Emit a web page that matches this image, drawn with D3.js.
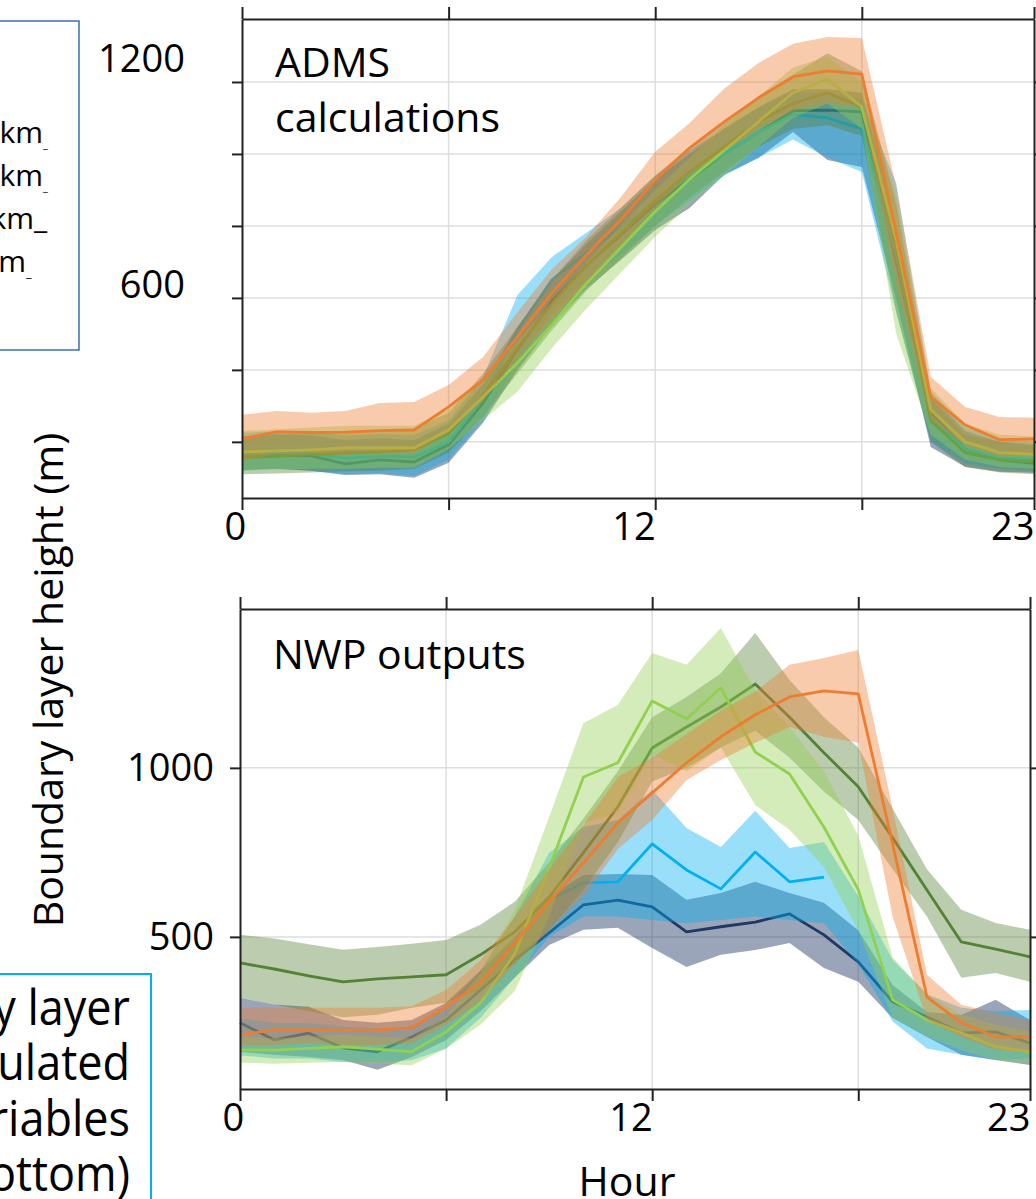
<!DOCTYPE html>
<html>
<head>
<meta charset="utf-8">
<script src="https://cdn.jsdelivr.net/npm/d3@7"></script>
<style>
  body { margin: 0; background: #fff; }
  svg { display: block; font-family: "Open Sans", sans-serif; }
  .grid line { stroke: #dedede; stroke-width: 1.5; }
  .axis path, .axis line { stroke: #222; stroke-width: 2; }
  .axis text { font-family: "Open Sans", sans-serif; fill: #000; }
</style>
</head>
<body>
<div id="chart"></div>
<script>
// hours of the day
var hours = [0,1,2,3,4,5,6,7,8,9,10,11,12,13,14,15,16,17,18,19,20,21,22,23];

// ADMS calculations (top panel): mean, low and high of each run
var admsNavy     = [158,164,161,139,150,144,192,308,456,590,690,775,860,930,1000,1060,1120,1122,1117,700,280,180,150,140];
var admsNavyLo   = [122,125,120,108,110,100,142,253,400,525,625,705,789,850,942,989,1061,983,964,594,186,131,117,114];
var admsNavyHi   = [215,222,218,205,210,205,250,360,520,650,750,840,930,1000,1070,1130,1180,1180,1170,800,330,230,200,190];
var admsCyan     = [165,170,168,155,160,158,200,320,510,650,725,795,870,940,1000,1060,1110,1100,1070,720,270,180,155,150];
var admsCyanLo   = [120,125,120,110,112,105,150,260,420,560,650,720,800,870,940,990,1040,990,950,560,200,140,125,120];
var admsCyanHi   = [225,230,228,218,222,220,260,380,608,714,781,850,940,1010,1070,1130,1170,1170,1150,919,340,240,210,200];
var admsDkGreen   = [156,160,165,169,172,178,224,330,460,585,690,780,870,950,1020,1090,1140,1170,1130,740,260,170,150,145];
var admsDkGreenLo = [110,112,115,118,120,125,170,270,390,510,620,710,800,880,950,1020,1070,1080,1050,560,200,130,115,110];
var admsDkGreenHi = [215,220,225,230,232,238,280,390,520,650,760,850,940,1020,1090,1160,1220,1280,1230,860,320,220,200,195];
var admsLtGreen   = [172,175,178,183,183,183,233,325,420,525,640,740,840,930,1010,1090,1170,1208,1131,760,290,200,170,165];
var admsLtGreenLo = [120,122,125,125,128,128,180,260,340,461,570,670,770,860,940,1020,1100,1140,1070,500,220,150,130,125];
var admsLtGreenHi = [230,235,240,245,245,245,290,380,480,590,700,800,900,990,1080,1160,1240,1270,1200,880,350,250,220,215];
var admsOrange   = [208,228,226,227,231,233,297,372,492,614,719,817,928,1017,1089,1156,1214,1231,1222,781,325,247,206,208];
var admsOrangeLo = [150,165,165,165,170,170,225,315,430,545,645,745,850,940,1010,1070,1120,1140,1130,640,260,190,160,160];
var admsOrangeHi = [275,286,281,286,308,311,358,436,560,680,770,880,1006,1086,1181,1253,1306,1325,1322,908,381,297,269,267];

// NWP outputs (bottom panel); null where the line is not visible
var nwpNavy     = [246,195,215,172,160,204,254,343,432,512,595,609,589,515,530,544,568,506,426,308,263,216,219,186];
var nwpNavyLo   = [160,151,145,136,107,145,195,280,380,476,521,527,467,411,447,461,482,408,367,260,204,151,136,121];
var nwpNavyHi   = [320,300,293,254,246,254,305,400,500,620,683,686,683,610,630,663,630,601,520,358,278,269,314,254];
var nwpCyan     = [null,null,null,null,null,null,null,null,null,610,660,663,775,698,642,751,663,677,null,null,null,null,null,null];
var nwpCyanLo   = [150,140,140,130,130,135,170,260,380,500,560,560,550,540,550,560,550,540,420,250,170,151,136,140];
var nwpCyanHi   = [260,245,245,235,230,235,285,400,560,749,825,846,935,822,766,873,763,781,620,432,330,290,280,284];
var nwpDkGreen   = [423,405,385,367,376,382,388,447,515,618,749,885,1059,1121,1180,1248,1150,1045,944,793,639,485,464,441];
var nwpDkGreenLo = [320,300,280,262,270,290,305,343,420,520,640,780,960,1000,1060,1110,1030,930,846,700,560,379,393,367];
var nwpDkGreenHi = [506,495,478,462,470,480,491,536,604,720,850,990,1150,1210,1280,1399,1260,1150,1060,880,700,580,541,521];
var nwpLtGreen   = [166,165,170,175,168,160,219,305,450,704,973,1015,1198,1145,1237,1047,982,825,640,314,254,216,175,160];
var nwpLtGreenLo = [128,125,128,130,125,120,170,240,340,560,837,870,1040,990,1060,890,817,707,520,260,205,165,135,125];
var nwpLtGreenHi = [205,200,205,210,205,200,265,393,580,855,1133,1186,1340,1305,1414,1230,1120,990,800,440,330,270,240,220];
var nwpOrange   = [210,225,225,224,225,231,293,364,482,604,719,837,926,1015,1092,1157,1210,1228,1219,775,322,246,204,204];
var nwpOrangeLo = [180,180,185,180,180,185,240,310,420,520,620,760,846,964,1023,1074,1121,1092,1074,560,254,204,166,157];
var nwpOrangeHi = [290,290,290,290,290,295,343,430,560,700,830,973,1030,1100,1170,1225,1305,1325,1349,880,388,299,275,254];

// tick values
var hourTicks = [0, 6, 12, 18, 23];
var hourLabels = [0, 12, 23];
var admsTicks = [200, 400, 600, 800, 1000, 1200];
var admsLabels = [600, 1200];
var nwpTicks = [500, 1000];

// legend fragments (cut off by the slide edge)
var runNames = ["UKV 1.5km", "UKV 2.2km", "MOGREPS 2.2km", "Global 10km"];
var noteLines = ["Boundary layer", "heights calculated", "from NWP variables", "(top) and NWP (bottom)"];

var colors = {
    navy: "#1f3864",
    cyan: "#00b0f0",
    dkgreen: "#548235",
    ltgreen: "#92d050",
    orange: "#ed7d31"
};

function makeSeries(mean, lo, hi, color, bandOpacity) {
    var pts = hours.map(function (h, i) {
        return { hour: h, mean: mean[i], lo: lo[i], hi: hi[i] };
    });
    return { pts: pts, color: color, op: bandOpacity };
}

var admsSeries = [
    makeSeries(admsNavy, admsNavyLo, admsNavyHi, colors.navy, 0.45),
    makeSeries(admsCyan, admsCyanLo, admsCyanHi, colors.cyan, 0.4),
    makeSeries(admsDkGreen, admsDkGreenLo, admsDkGreenHi, colors.dkgreen, 0.4),
    makeSeries(admsLtGreen, admsLtGreenLo, admsLtGreenHi, colors.ltgreen, 0.4),
    makeSeries(admsOrange, admsOrangeLo, admsOrangeHi, colors.orange, 0.4)
];
var nwpSeries = [
    makeSeries(nwpNavy, nwpNavyLo, nwpNavyHi, colors.navy, 0.45),
    makeSeries(nwpCyan, nwpCyanLo, nwpCyanHi, colors.cyan, 0.4),
    makeSeries(nwpDkGreen, nwpDkGreenLo, nwpDkGreenHi, colors.dkgreen, 0.4),
    makeSeries(nwpLtGreen, nwpLtGreenLo, nwpLtGreenHi, colors.ltgreen, 0.4),
    makeSeries(nwpOrange, nwpOrangeLo, nwpOrangeHi, colors.orange, 0.4)
];

var svg = d3.select("#chart").append("svg")
    .attr("width", 1036)
    .attr("height", 1199);

function drawPanel(cfg) {
    var x = d3.scaleLinear().domain([0, 23]).range(cfg.xr);
    var y = d3.scaleLinear().domain(cfg.yd).range(cfg.yr);
    var g = svg.append("g");

    // grid
    var grid = g.append("g").attr("class", "grid");
    grid.selectAll(".hg").data(cfg.yTicks).enter().append("line")
        .attr("x1", cfg.xr[0]).attr("x2", cfg.xr[1])
        .attr("y1", function (d) { return y(d); })
        .attr("y2", function (d) { return y(d); });
    grid.selectAll(".vg").data([6, 12, 18]).enter().append("line")
        .attr("y1", cfg.yr[0]).attr("y2", cfg.yr[1])
        .attr("x1", function (d) { return x(d); })
        .attr("x2", function (d) { return x(d); });

    var area = d3.area()
        .x(function (d) { return x(d.hour); })
        .y0(function (d) { return y(d.lo); })
        .y1(function (d) { return y(d.hi); });
    var line = d3.line()
        .defined(function (d) { return d.mean !== null; })
        .x(function (d) { return x(d.hour); })
        .y(function (d) { return y(d.mean); });

    cfg.series.forEach(function (s) {
        g.append("path")
            .datum(s.pts)
            .attr("d", area)
            .attr("fill", s.color)
            .attr("fill-opacity", s.op);
        g.append("path")
            .datum(s.pts)
            .attr("d", line)
            .attr("fill", "none")
            .attr("stroke", s.color)
            .attr("stroke-width", 2.8)
            .attr("stroke-linejoin", "round");
    });

    // axes
    g.append("g")
        .attr("class", "axis")
        .attr("transform", "translate(0," + cfg.yr[0] + ")")
        .call(d3.axisBottom(x).tickValues(hourTicks).tickSize(12).tickSizeOuter(0).tickPadding(3)
            .tickFormat(function (d) { return hourLabels.indexOf(d) >= 0 ? d : ""; }))
        .selectAll("text")
        .style("font-size", "38px")
        .attr("text-anchor", "end")
        .attr("dx", function (d) { return d === 0 ? "0.1em" : "0"; });

    g.append("g")
        .attr("class", "axis")
        .attr("transform", "translate(0," + cfg.yr[1] + ")")
        .call(d3.axisTop(x).tickValues(hourTicks).tickSize(12).tickSizeOuter(0).tickFormat(""));

    var left = g.append("g")
        .attr("class", "axis")
        .attr("transform", "translate(" + cfg.xr[0] + ",0)")
        .call(d3.axisLeft(y).tickValues(cfg.yTicks).tickSize(10).tickSizeOuter(0).tickPadding(cfg.labelPad)
            .tickFormat(function (d) { return cfg.yLabels.indexOf(d) >= 0 ? d : ""; }));
    left.selectAll("text")
        .style("font-size", "38px")
        .attr("dy", cfg.labelDy);

    g.append("g")
        .attr("class", "axis")
        .attr("transform", "translate(" + cfg.xr[1] + ",0)")
        .call(d3.axisRight(y).tickValues(cfg.yTicks).tickSize(10).tickSizeOuter(0).tickFormat(""));

    // title
    var t = g.append("text")
        .attr("x", cfg.xr[0] + 33)
        .attr("y", cfg.titleY)
        .style("font-size", "41px")
        .attr("fill", "#000");
    cfg.title.forEach(function (s, i) {
        t.append("tspan").attr("x", cfg.xr[0] + 33).attr("dy", i === 0 ? 0 : "1.35em").text(s);
    });
}

drawPanel({
    series: admsSeries,
    xr: [242, 1034],
    yr: [498, 19],
    yd: [44, 1375],
    yTicks: admsTicks,
    yLabels: admsLabels,
    labelPad: 47,
    labelDy: function (d) { return d === 1200 ? "-0.28em" : "0em"; },
    title: ["ADMS", "calculations"],
    titleY: 77
});

drawPanel({
    series: nwpSeries,
    xr: [240, 1030],
    yr: [1089, 609],
    yd: [50, 1470],
    yTicks: nwpTicks,
    yLabels: nwpTicks,
    labelPad: 16,
    labelDy: "0.32em",
    title: ["NWP outputs"],
    titleY: 669
});

// shared axis titles
svg.append("text")
    .attr("transform", "translate(63,680) rotate(-90)")
    .attr("text-anchor", "middle")
    .style("font-size", "41px")
    .text("Boundary layer height (m)");

svg.append("text")
    .attr("x", 627)
    .attr("y", 1196)
    .attr("text-anchor", "middle")
    .style("font-size", "41px")
    .text("Hour");

// legend box, top left (partly off the slide)
svg.append("rect")
    .attr("x", -10).attr("y", 21)
    .attr("width", 89).attr("height", 329)
    .attr("fill", "none")
    .attr("stroke", "#3a6fb3")
    .attr("stroke-width", 1.5);
var nameEnd = [43, 43, 34, 26];
var tailSize = [11, 11, 30, 13];
var legend = svg.selectAll(".run").data(runNames).enter().append("g")
    .attr("class", "run")
    .attr("transform", function (d, i) { return "translate(" + nameEnd[i] + "," + (143 + i * 43) + ")"; });
legend.append("text")
    .attr("text-anchor", "end")
    .style("font-size", "30px")
    .text(function (d) { return d; });
legend.append("text")
    .attr("x", 0)
    .attr("y", function (d, i) { return i === 2 ? 0 : 5; })
    .style("font-size", function (d, i) { return tailSize[i] + "px"; })
    .text("_");

// note box, bottom left (partly off the slide)
svg.append("rect")
    .attr("x", -10).attr("y", 974)
    .attr("width", 161).attr("height", 260)
    .attr("fill", "none")
    .attr("stroke", "#00b0f0")
    .attr("stroke-width", 2);
var note = svg.append("g").attr("transform", "translate(130,0) scale(0.9,1)");
note.selectAll("text").data(noteLines).enter().append("text")
    .attr("x", 0)
    .attr("y", function (d, i) { return 1025 + i * 55.5; })
    .attr("text-anchor", "end")
    .style("font-size", "50px")
    .text(function (d) { return d; });
</script>
</body>
</html>
